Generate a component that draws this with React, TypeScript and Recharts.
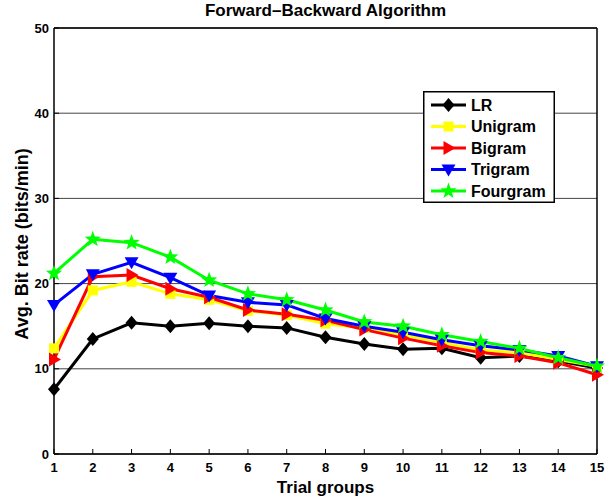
import React from 'react';
import { LineChart, Line, XAxis, YAxis, CartesianGrid, Legend } from 'recharts';

const trialGroups = [1, 2, 3, 4, 5, 6, 7, 8, 9, 10, 11, 12, 13, 14, 15];
const yTicks = [0, 10, 20, 30, 40, 50];

const lr = [7.6, 13.5, 15.4, 15.0, 15.35, 15.0, 14.8, 13.7, 12.9, 12.3, 12.4, 11.3, 11.5, 10.9, 10.1];
const unigram = [12.4, 19.2, 20.2, 18.8, 18.1, 16.8, 16.3, 15.3, 14.8, 14.0, 13.1, 12.2, 11.9, 11.1, 10.3];
const bigram = [11.1, 20.8, 21.0, 19.4, 18.4, 16.9, 16.4, 15.7, 14.6, 13.6, 12.7, 11.9, 11.5, 10.7, 9.3];
const trigram = [17.5, 21.1, 22.5, 20.7, 18.6, 17.8, 17.5, 15.9, 15.0, 14.3, 13.4, 12.7, 12.2, 11.5, 10.3];
const fourgram = [21.2, 25.2, 24.8, 23.1, 20.4, 18.8, 18.1, 16.9, 15.5, 15.0, 14.0, 13.2, 12.4, 11.3, 10.3];

const FONT = '"Liberation Sans", Arial, Helvetica, sans-serif';

type Shape = 'diamond' | 'square' | 'right' | 'down' | 'star';

const series: { key: string; name: string; color: string; shape: Shape }[] = [
  { key: 'lr', name: 'LR', color: '#000000', shape: 'diamond' },
  { key: 'unigram', name: 'Unigram', color: '#ffff00', shape: 'square' },
  { key: 'bigram', name: 'Bigram', color: '#ff0000', shape: 'right' },
  { key: 'trigram', name: 'Trigram', color: '#0000ff', shape: 'down' },
  { key: 'fourgram', name: 'Fourgram', color: '#00ff00', shape: 'star' },
];

const data = trialGroups.map((g, i) => ({
  group: g,
  lr: lr[i],
  unigram: unigram[i],
  bigram: bigram[i],
  trigram: trigram[i],
  fourgram: fourgram[i],
}));

const starPoints = (cx: number, cy: number, outer: number, inner: number) => {
  const pts: string[] = [];
  for (let i = 0; i < 10; i++) {
    const r = i % 2 === 0 ? outer : inner;
    const a = -Math.PI / 2 + (i * Math.PI) / 5;
    pts.push(`${cx + r * Math.cos(a)},${cy + r * Math.sin(a)}`);
  }
  return pts.join(' ');
};

const Marker = ({ cx, cy, shape, color }: { cx: number; cy: number; shape: Shape; color: string }) => {
  if (cx == null || cy == null) return null;
  switch (shape) {
    case 'diamond':
      return <polygon points={`${cx},${cy - 7} ${cx + 6},${cy} ${cx},${cy + 7} ${cx - 6},${cy}`} fill={color} />;
    case 'square':
      return <rect x={cx - 5} y={cy - 5} width={10} height={10} fill={color} />;
    case 'right':
      return <polygon points={`${cx - 5},${cy - 7} ${cx + 7},${cy} ${cx - 5},${cy + 7}`} fill={color} />;
    case 'down':
      return <polygon points={`${cx - 7},${cy - 5} ${cx + 7},${cy - 5} ${cx},${cy + 7}`} fill={color} />;
    default:
      return <polygon points={starPoints(cx, cy, 8.5, 3.5)} fill={color} />;
  }
};

const LegendBox = () => (
  <svg width={132} height={112} style={{ display: 'block' }}>
    <rect x={0.75} y={0.75} width={130.5} height={110.5} fill="#fff" stroke="#000" strokeWidth={1.5} />
    {series.map((s, i) => {
      const y = 14 + i * 21.5;
      return (
        <g key={s.key}>
          <line x1={8} x2={43} y1={y} y2={y} stroke={s.color} strokeWidth={3} />
          <Marker cx={25.5} cy={y} shape={s.shape} color={s.color} />
          <text x={48} y={y + 5.5} fontFamily={FONT} fontWeight="bold" fontSize={16} fill="#000">
            {s.name}
          </text>
        </g>
      );
    })}
  </svg>
);

const tickStyle = { fontFamily: FONT, fontWeight: 'bold', fontSize: 13, fill: '#000' };
const axisLineStyle = { stroke: '#000', strokeWidth: 1.5 };

const App = () => {
  return (
    <div style={{ position: 'absolute', left: 0, top: 0 }}>
      <LineChart width={615} height={501} data={data} margin={{ top: 27, right: 17, bottom: 0, left: 0 }}>
        <CartesianGrid vertical={false} stroke="#444" strokeWidth={1} yAxisId="left" />
        <XAxis
          dataKey="group"
          type="number"
          domain={[1, 15]}
          ticks={trialGroups}
          height={47}
          tickSize={-5}
          tickMargin={14}
          tick={tickStyle}
          axisLine={axisLineStyle}
          tickLine={{ stroke: '#000' }}
          label={{
            content: (p: any) => (
              <text
                x={p.viewBox.x + p.viewBox.width / 2}
                y={493}
                textAnchor="middle"
                fontFamily={FONT}
                fontWeight="bold"
                fontSize={17}
                fill="#000"
              >
                Trial groups
              </text>
            ),
          }}
        />
        <XAxis
          xAxisId="top"
          orientation="top"
          dataKey="group"
          type="number"
          domain={[1, 15]}
          ticks={trialGroups}
          height={1}
          tickSize={-5}
          tick={false}
          axisLine={axisLineStyle}
          tickLine={{ stroke: '#000' }}
          label={{
            content: (p: any) => (
              <text
                x={p.viewBox.x + p.viewBox.width / 2}
                y={16}
                textAnchor="middle"
                fontFamily={FONT}
                fontWeight="bold"
                fontSize={17}
                fill="#000"
              >
                Forward–Backward Algorithm
              </text>
            ),
          }}
        />
        <YAxis
          yAxisId="left"
          type="number"
          domain={[0, 50]}
          ticks={yTicks}
          width={54}
          tickSize={-5}
          tickMargin={10}
          tick={tickStyle}
          axisLine={axisLineStyle}
          tickLine={{ stroke: '#000' }}
          label={{
            content: (p: any) => (
              <text
                transform={`translate(28, ${p.viewBox.y + p.viewBox.height / 2 + 3}) rotate(-90)`}
                textAnchor="middle"
                fontFamily={FONT}
                fontWeight="bold"
                fontSize={18}
                fill="#000"
              >
                Avg. Bit rate (bits/min)
              </text>
            ),
          }}
        />
        <YAxis
          yAxisId="right"
          orientation="right"
          type="number"
          domain={[0, 50]}
          ticks={yTicks}
          width={1}
          tickSize={-5}
          tick={false}
          axisLine={axisLineStyle}
          tickLine={{ stroke: '#000' }}
        />
        <Legend
          layout="vertical"
          align="center"
          verticalAlign="middle"
          content={() => <LegendBox />}
          wrapperStyle={{ left: 423, top: 91, width: 132, height: 112 }}
        />
        {series.map((s) => (
          <Line
            key={s.key}
            yAxisId="left"
            dataKey={s.key}
            name={s.name}
            type="linear"
            stroke={s.color}
            strokeWidth={3}
            isAnimationActive={false}
            dot={(p: any) => <Marker key={`${s.key}-${p.index}`} cx={p.cx} cy={p.cy} shape={s.shape} color={s.color} />}
            activeDot={false}
          />
        ))}
      </LineChart>
    </div>
  );
};

export default App;
